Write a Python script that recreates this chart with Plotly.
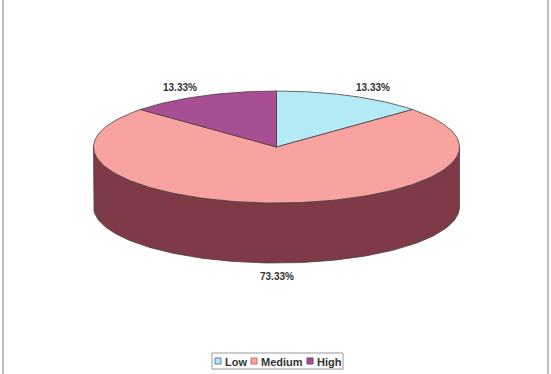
import numpy as np
import plotly.graph_objects as go

# ---- data ----
categories = ["Low", "Medium", "High"]
values = [13.33, 73.33, 13.33]
value_labels = ["13.33%", "73.33%", "13.33%"]

# ---- style / layout ----
top_colors = ["#b4eaf5", "#f9a3a0", "#a84e92"]
side_colors = ["#5e8d97", "#7e3a46", "#5a2a50"]
legend_edge = ["#4f7fb0", "#c07070", "#7a3a6a"]
outline = "#4a4040"
W, H = 551, 374
cx, cy, a, b, depth = 276.5, 147, 183, 56, 60
kx, ky, label_dy = 1.30, 1.20, 2
FONT = "Liberation Sans, Arial, sans-serif"

# legend layout (pixels)
leg_box = (212, 353, 343, 369)
leg_sq_x = [215, 251, 307]
leg_sq = 6

fracs = np.array(values) / sum(values)
ends = np.cumsum(fracs) * 360
starts = np.concatenate([[0], ends[:-1]])


def pts(theta_deg):
    t = np.radians(theta_deg)
    return cx + a * np.sin(t), cy - b * np.cos(t)


fig = go.Figure()

# side walls (front half only: 90..270 deg clockwise from top)
for i, cat in enumerate(categories):
    lo, hi = max(starts[i], 90), min(ends[i], 270)
    if hi <= lo:
        continue
    th = np.linspace(lo, hi, 120)
    x, y = pts(th)
    xs = np.concatenate([x, x[::-1], x[:1]])
    ys = np.concatenate([y, (y + depth)[::-1], y[:1]])
    fig.add_trace(go.Scatter(x=xs, y=ys, mode="lines", fill="toself",
                             fillcolor=side_colors[i],
                             line=dict(color=outline, width=0.8),
                             hoverinfo="skip", showlegend=False))

# top faces
for i, cat in enumerate(categories):
    th = np.linspace(starts[i], ends[i], 200)
    x, y = pts(th)
    xs = np.concatenate([[cx], x, [cx]])
    ys = np.concatenate([[cy], y, [cy]])
    fig.add_trace(go.Scatter(x=xs, y=ys, mode="lines", fill="toself",
                             fillcolor=top_colors[i],
                             line=dict(color=outline, width=0.8),
                             name=cat, hoverinfo="skip", showlegend=False))

# value labels
for i, lab in enumerate(value_labels):
    t = np.radians((starts[i] + ends[i]) / 2)
    lx = cx + a * kx * np.sin(t)
    ly = cy - b * ky * np.cos(t) + label_dy
    if np.cos(t) < 0:
        ly += depth
    fig.add_annotation(x=lx, y=ly, text="<b>%s</b>" % lab, showarrow=False,
                       font=dict(family=FONT, size=10, color="#333333"),
                       xanchor="center", yanchor="middle")

# legend (drawn like the original's compact box)
x0, y0, x1, y1 = leg_box
ymid = (y0 + y1) / 2
fig.add_shape(type="rect", x0=x0, y0=y0, x1=x1, y1=y1,
              line=dict(color="#999999", width=1), fillcolor="white")
for i, cat in enumerate(categories):
    sx = leg_sq_x[i]
    fig.add_shape(type="rect", x0=sx, x1=sx + leg_sq,
                  y0=ymid - leg_sq / 2, y1=ymid + leg_sq / 2,
                  fillcolor=top_colors[i],
                  line=dict(color=legend_edge[i], width=1))
    fig.add_annotation(x=sx + leg_sq + 2, y=ymid + 0.5, text="<b>%s</b>" % cat,
                       showarrow=False, xanchor="left", yanchor="middle",
                       font=dict(family=FONT, size=11, color="#333333"))

# frame lines
for xv in (3, 548):
    fig.add_shape(type="line", x0=xv, x1=xv, y0=0, y1=H,
                  line=dict(color="#aaaaaa", width=1.5))

fig.update_layout(
    width=W, height=H,
    margin=dict(l=0, r=0, t=0, b=0),
    paper_bgcolor="white", plot_bgcolor="white",
    xaxis=dict(range=[0, W], visible=False, fixedrange=True),
    yaxis=dict(range=[H, 0], visible=False, fixedrange=True),
    showlegend=False,
)

fig.write_html("out.html")
